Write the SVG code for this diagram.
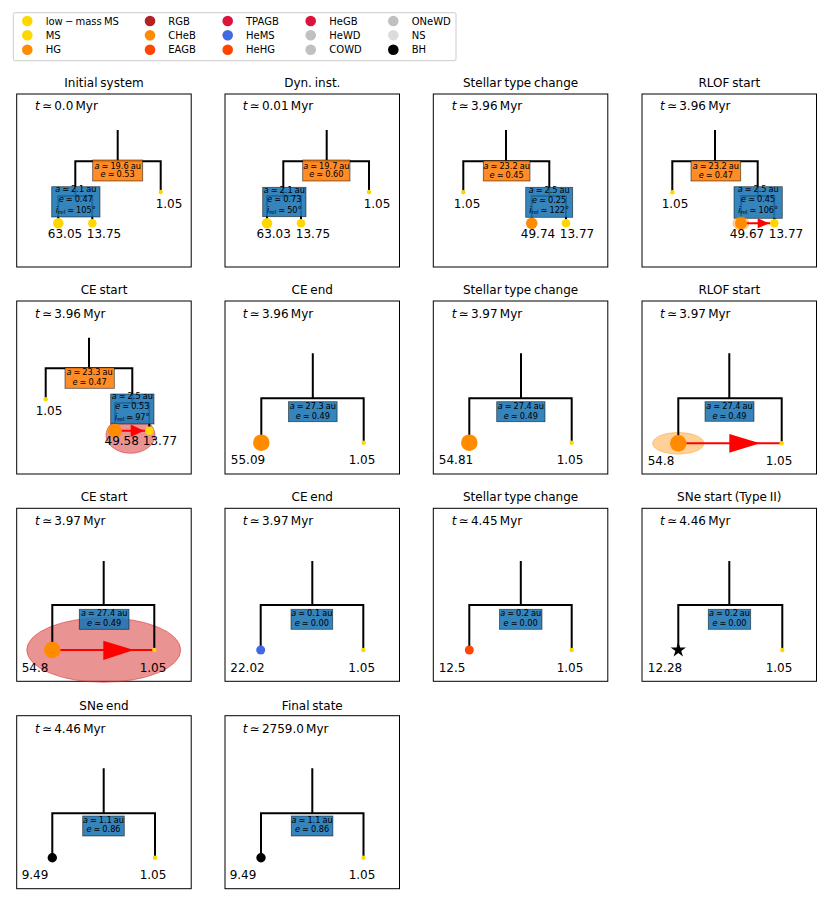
<svg xmlns="http://www.w3.org/2000/svg" width="830" height="902" viewBox="0 0 830 902">
<style>
text{font-family:"DejaVu Sans","Liberation Sans",sans-serif;fill:#000}
.frame{fill:none;stroke:#000;stroke-width:1}
.title{font-size:12px;text-anchor:middle;word-spacing:-1px}
.time{font-size:12px;word-spacing:-1.6px}
.lbl{font-size:12px;text-anchor:middle}
.bt{font-size:8.2px;text-anchor:middle;word-spacing:-0.6px}
.leg{font-size:10px;word-spacing:-1px}
.i{font-style:italic}
.sub{font-size:5.5px}
.tree{stroke:#000;stroke-width:2;fill:none}
.ob{fill:#ff7f0e;fill-opacity:.9;stroke:#000;stroke-opacity:.6;stroke-width:.8}
.bb{fill:#1f77b4;fill-opacity:.9;stroke:#000;stroke-opacity:.6;stroke-width:.8}
.ms{fill:#ffd700}
.chb{fill:#ff8c00}
.rl{stroke:#ff0000;stroke-width:2}
.ar{fill:#ff0000}
.ce{fill:#d62728;fill-opacity:.5;stroke:#d62728;stroke-opacity:.5;stroke-width:1}
.halo{fill:#ff8c00;fill-opacity:.4;stroke:#ff8c00;stroke-opacity:.4;stroke-width:1}
</style>
<defs>
<polygon id="star" points="0,-8 1.8,-2.5 7.6,-2.5 2.9,0.95 4.7,6.5 0,3.05 -4.7,6.5 -2.9,0.95 -7.6,-2.5 -1.8,-2.5"/>
</defs>

<g id="legend">
<rect x="13.3" y="12.7" width="442.7" height="48" rx="2" fill="#fff" stroke="#ccc" stroke-width="1"/>
<circle cx="27.3" cy="21" r="5.3" fill="#ffd700"/><text class="leg" x="45.7" y="24.5">low − mass MS</text>
<circle cx="27.3" cy="35.3" r="5.3" fill="#ffd700"/><text class="leg" x="45.7" y="38.8">MS</text>
<circle cx="27.3" cy="49.7" r="5.3" fill="#ff8c00"/><text class="leg" x="45.7" y="53.2">HG</text>
<circle cx="150" cy="21" r="5.3" fill="#b22222"/><text class="leg" x="168.3" y="24.5">RGB</text>
<circle cx="150" cy="35.3" r="5.3" fill="#ff8c00"/><text class="leg" x="168.3" y="38.8">CHeB</text>
<circle cx="150" cy="49.7" r="5.3" fill="#ff4500"/><text class="leg" x="168.3" y="53.2">EAGB</text>
<circle cx="227.7" cy="21" r="5.3" fill="#dc143c"/><text class="leg" x="246" y="24.5">TPAGB</text>
<circle cx="227.7" cy="35.3" r="5.3" fill="#4169e1"/><text class="leg" x="246" y="38.8">HeMS</text>
<circle cx="227.7" cy="49.7" r="5.3" fill="#ff4500"/><text class="leg" x="246" y="53.2">HeHG</text>
<circle cx="310.7" cy="21" r="5.3" fill="#dc143c"/><text class="leg" x="329.3" y="24.5">HeGB</text>
<circle cx="310.7" cy="35.3" r="5.3" fill="#c0c0c0"/><text class="leg" x="329.3" y="38.8">HeWD</text>
<circle cx="310.7" cy="49.7" r="5.3" fill="#c0c0c0"/><text class="leg" x="329.3" y="53.2">COWD</text>
<circle cx="393.3" cy="21" r="5.3" fill="#c0c0c0"/><text class="leg" x="411.7" y="24.5">ONeWD</text>
<circle cx="393.3" cy="35.3" r="5.3" fill="#dcdcdc"/><text class="leg" x="411.7" y="38.8">NS</text>
<circle cx="393.3" cy="49.7" r="5.3" fill="#000"/><text class="leg" x="411.7" y="53.2">BH</text>
</g>

<!-- Panel 1 -->
<g id="panel-1">
<rect class="frame" x="16.7" y="94" width="174.5" height="173"/>
<text class="title" x="104" y="87">Initial system</text>
<text class="time" x="35" y="110.4"><tspan class="i">t</tspan> ≃ 0.0 Myr</text>
<g id="p1-connectors"><path class="tree" d="M117.7 130V161.3M75.3 196V161.3H160.7V192M58.3 223.3V196H92.3V223.3"/></g>
<g id="p1-outer"><rect class="ob" x="92.7" y="160" width="50" height="21"/>
<text class="bt" x="117.7" y="168.6"><tspan class="i">a</tspan> ≃ 19.6 au</text>
<text class="bt" x="117.7" y="177.2"><tspan class="i">e</tspan> ≃ 0.53</text></g>
<g id="p1-inner"><rect class="bb" x="51.7" y="186.7" width="48.3" height="30.3"/>
<text class="bt" x="75.8" y="192.2"><tspan class="i">a</tspan> ≃ 2.1 au</text>
<text class="bt" x="75.8" y="202.2"><tspan class="i">e</tspan> ≃ 0.47</text>
<text class="bt" x="75.8" y="212.5"><tspan class="i">i</tspan><tspan class="sub" dy="1.5">rel</tspan><tspan dy="-1.5"> ≃ 105°</tspan></text></g>
<g id="p1-s1"><circle class="ms" cx="58.3" cy="223.3" r="5.3"/><text class="lbl" x="65" y="238.4">63.05</text></g>
<g id="p1-s2"><circle class="ms" cx="92.3" cy="223.3" r="4.3"/><text class="lbl" x="104" y="238.4">13.75</text></g>
<g id="p1-s3"><circle class="ms" cx="160.7" cy="192" r="2.2"/><text class="lbl" x="169" y="207.7">1.05</text></g>
</g>

<!-- Panel 2 -->
<g id="panel-2">
<rect class="frame" x="225" y="94" width="174.5" height="173"/>
<text class="title" x="312.3" y="87">Dyn. inst.</text>
<text class="time" x="242.7" y="110.4"><tspan class="i">t</tspan> ≃ 0.01 Myr</text>
<g id="p2-connectors"><path class="tree" d="M326.7 130V161.3M283.3 196V161.3H369V192M267 223.3V196H301V223.3"/></g>
<g id="p2-outer"><rect class="ob" x="302.7" y="160" width="47.3" height="21"/>
<text class="bt" x="326.4" y="168.6"><tspan class="i">a</tspan> ≃ 19.7 au</text>
<text class="bt" x="326.4" y="177.2"><tspan class="i">e</tspan> ≃ 0.60</text></g>
<g id="p2-inner"><rect class="bb" x="262.7" y="187.3" width="43.3" height="29.4"/>
<text class="bt" x="284.3" y="192.6"><tspan class="i">a</tspan> ≃ 2.1 au</text>
<text class="bt" x="284.3" y="202.4"><tspan class="i">e</tspan> ≃ 0.73</text>
<text class="bt" x="284.3" y="212.6"><tspan class="i">i</tspan><tspan class="sub" dy="1.5">rel</tspan><tspan dy="-1.5"> ≃ 50°</tspan></text></g>
<g id="p2-s1"><circle class="ms" cx="267" cy="223.3" r="5.3"/><text class="lbl" x="273.7" y="238.4">63.03</text></g>
<g id="p2-s2"><circle class="ms" cx="301" cy="223.3" r="4.3"/><text class="lbl" x="313" y="238.4">13.75</text></g>
<g id="p2-s3"><circle class="ms" cx="369" cy="192" r="2.2"/><text class="lbl" x="377" y="207.7">1.05</text></g>
</g>

<!-- Panel 3 -->
<g id="panel-3">
<rect class="frame" x="433.3" y="94" width="174.5" height="173"/>
<text class="title" x="520.6" y="87">Stellar type change</text>
<text class="time" x="451.7" y="110.4"><tspan class="i">t</tspan> ≃ 3.96 Myr</text>
<g id="p3-connectors"><path class="tree" d="M506 130V161.3M463.3 192.3V161.3H549.3V196M531.7 223.3V196H566V223.3"/></g>
<g id="p3-outer"><rect class="ob" x="483.3" y="160.7" width="46.7" height="20.3"/>
<text class="bt" x="506.7" y="169"><tspan class="i">a</tspan> ≃ 23.2 au</text>
<text class="bt" x="506.7" y="177.5"><tspan class="i">e</tspan> ≃ 0.45</text></g>
<g id="p3-inner"><rect class="bb" x="525.7" y="187.3" width="47" height="30"/>
<text class="bt" x="549.2" y="192.6"><tspan class="i">a</tspan> ≃ 2.5 au</text>
<text class="bt" x="549.2" y="202.6"><tspan class="i">e</tspan> ≃ 0.25</text>
<text class="bt" x="549.2" y="212.8"><tspan class="i">i</tspan><tspan class="sub" dy="1.5">rel</tspan><tspan dy="-1.5"> ≃ 122°</tspan></text></g>
<g id="p3-s1"><circle class="chb" cx="531.7" cy="223.3" r="5.8"/><text class="lbl" x="538" y="238.4">49.74</text></g>
<g id="p3-s2"><circle class="ms" cx="566" cy="223.3" r="4.3"/><text class="lbl" x="577" y="238.4">13.77</text></g>
<g id="p3-s3"><circle class="ms" cx="463.3" cy="192.3" r="2.2"/><text class="lbl" x="467" y="207.7">1.05</text></g>
</g>

<!-- Panel 4 -->
<g id="panel-4">
<rect class="frame" x="642" y="94" width="174.5" height="173"/>
<text class="title" x="729.3" y="87">RLOF start</text>
<text class="time" x="660" y="110.4"><tspan class="i">t</tspan> ≃ 3.96 Myr</text>
<g id="p4-connectors"><path class="tree" d="M715 130V161.3M672.3 192.3V161.3H757.7V196M741 223.3V196H774.3V223.3"/></g>
<g id="p4-outer"><rect class="ob" x="691" y="160.7" width="49.7" height="20.3"/>
<text class="bt" x="715.8" y="169"><tspan class="i">a</tspan> ≃ 23.2 au</text>
<text class="bt" x="715.8" y="177.5"><tspan class="i">e</tspan> ≃ 0.47</text></g>
<g id="p4-inner"><rect class="bb" x="734" y="186.7" width="48.3" height="31.6"/>
<text class="bt" x="758.2" y="192.2"><tspan class="i">a</tspan> ≃ 2.5 au</text>
<text class="bt" x="758.2" y="202.4"><tspan class="i">e</tspan> ≃ 0.45</text>
<text class="bt" x="758.2" y="212.8"><tspan class="i">i</tspan><tspan class="sub" dy="1.5">rel</tspan><tspan dy="-1.5"> ≃ 106°</tspan></text></g>
<ellipse class="halo" cx="741" cy="223.3" rx="8" ry="6.5"/>
<line class="rl" x1="741" y1="223.3" x2="774.3" y2="223.3"/>
<polygon class="ar" points="757.7,218.3 757.7,228.3 769.3,223.3"/>
<g id="p4-s1"><circle class="chb" cx="741" cy="223.3" r="6"/><text class="lbl" x="747" y="237.7">49.67</text></g>
<g id="p4-s2"><circle class="ms" cx="774.3" cy="223.3" r="4.3"/><text class="lbl" x="786" y="237.7">13.77</text></g>
<g id="p4-s3"><circle class="ms" cx="672.3" cy="192.3" r="2.2"/><text class="lbl" x="675" y="207.7">1.05</text></g>
</g>

<!-- Panel 5 -->
<g id="panel-5">
<rect class="frame" x="16.7" y="301" width="174.5" height="173"/>
<text class="title" x="104" y="294">CE start</text>
<text class="time" x="35" y="317.7"><tspan class="i">t</tspan> ≃ 3.96 Myr</text>
<ellipse class="ce" cx="130.5" cy="435" rx="24.5" ry="18.3"/>
<g id="p5-connectors"><path class="tree" d="M89 337.7V368.3M45.7 399.3V368.3H132.3V403M115 430.7V403H149.3V430.7"/></g>
<g id="p5-outer"><rect class="ob" x="65" y="367.6" width="49.3" height="20.7"/>
<text class="bt" x="89.6" y="375.3"><tspan class="i">a</tspan> ≃ 23.3 au</text>
<text class="bt" x="89.6" y="384.5"><tspan class="i">e</tspan> ≃ 0.47</text></g>
<g id="p5-inner"><rect class="bb" x="110.7" y="394" width="43.3" height="30"/>
<text class="bt" x="132.3" y="399.4"><tspan class="i">a</tspan> ≃ 2.5 au</text>
<text class="bt" x="132.3" y="409.3"><tspan class="i">e</tspan> ≃ 0.53</text>
<text class="bt" x="132.3" y="419.5"><tspan class="i">i</tspan><tspan class="sub" dy="1.5">rel</tspan><tspan dy="-1.5"> ≃ 97°</tspan></text></g>
<line class="rl" x1="115" y1="430.7" x2="149.3" y2="430.7"/>
<polygon class="ar" points="130.7,424.5 130.7,437 144,430.7"/>
<g id="p5-s1"><circle class="chb" cx="115" cy="430.7" r="7"/><text class="lbl" x="121.7" y="445.4">49.58</text></g>
<g id="p5-s2"><circle class="ms" cx="149.3" cy="430.7" r="4.3"/><text class="lbl" x="160" y="445.4">13.77</text></g>
<g id="p5-s3"><circle class="ms" cx="45.7" cy="399.3" r="2.2"/><text class="lbl" x="49" y="415">1.05</text></g>
</g>

<!-- Panel 6 -->
<g id="panel-6">
<rect class="frame" x="225" y="301" width="174.5" height="173"/>
<text class="title" x="312.3" y="294">CE end</text>
<text class="time" x="242.7" y="317.7"><tspan class="i">t</tspan> ≃ 3.96 Myr</text>
<g id="p6-connectors"><path class="tree" d="M312.8 353.3V398.3M261.3 442.7V398.3H363.7V442.7"/></g>
<g id="p6-bin"><rect class="bb" x="288.5" y="401.7" width="48.6" height="20"/>
<text class="bt" x="312.8" y="408.9"><tspan class="i">a</tspan> ≃ 27.3 au</text>
<text class="bt" x="312.8" y="418.6"><tspan class="i">e</tspan> ≃ 0.49</text></g>
<g id="p6-s1"><circle class="chb" cx="261.3" cy="442.7" r="8.3"/><text class="lbl" x="248" y="464.4">55.09</text></g>
<g id="p6-s2"><circle class="ms" cx="363.7" cy="442.7" r="2.2"/><text class="lbl" x="362" y="464.4">1.05</text></g>
</g>

<!-- Panel 7 -->
<g id="panel-7">
<rect class="frame" x="433.3" y="301" width="174.5" height="173"/>
<text class="title" x="520.6" y="294">Stellar type change</text>
<text class="time" x="451.7" y="317.7"><tspan class="i">t</tspan> ≃ 3.97 Myr</text>
<g id="p7-connectors"><path class="tree" d="M521 353.3V398.3M469.3 442.7V398.3H571.7V442.7"/></g>
<g id="p7-bin"><rect class="bb" x="496.7" y="401.7" width="48.3" height="20"/>
<text class="bt" x="520.8" y="408.9"><tspan class="i">a</tspan> ≃ 27.4 au</text>
<text class="bt" x="520.8" y="418.6"><tspan class="i">e</tspan> ≃ 0.49</text></g>
<g id="p7-s1"><circle class="chb" cx="469.3" cy="442.7" r="8.3"/><text class="lbl" x="456" y="464.4">54.81</text></g>
<g id="p7-s2"><circle class="ms" cx="571.7" cy="442.7" r="2.2"/><text class="lbl" x="570" y="464.4">1.05</text></g>
</g>

<!-- Panel 8 -->
<g id="panel-8">
<rect class="frame" x="642" y="301" width="174.5" height="173"/>
<text class="title" x="729.3" y="294">RLOF start</text>
<text class="time" x="660" y="317.7"><tspan class="i">t</tspan> ≃ 3.97 Myr</text>
<ellipse class="halo" cx="678.3" cy="443.3" rx="25.7" ry="10.8"/>
<g id="p8-connectors"><path class="tree" d="M729.3 353.3V398.3M678.3 443.3V398.3H781.7V443.3"/></g>
<g id="p8-bin"><rect class="bb" x="705" y="401.7" width="49" height="19.6"/>
<text class="bt" x="729.5" y="408.9"><tspan class="i">a</tspan> ≃ 27.4 au</text>
<text class="bt" x="729.5" y="418.6"><tspan class="i">e</tspan> ≃ 0.49</text></g>
<line class="rl" x1="678.3" y1="443.3" x2="781.7" y2="443.3"/>
<polygon class="ar" points="729.3,434 729.3,452.7 760,443.3"/>
<g id="p8-s1"><circle class="chb" cx="678.3" cy="443.3" r="8.3"/><text class="lbl" x="661" y="465">54.8</text></g>
<g id="p8-s2"><circle class="ms" cx="781.7" cy="443.3" r="2.2"/><text class="lbl" x="779" y="465">1.05</text></g>
</g>

<!-- Panel 9 -->
<g id="panel-9">
<rect class="frame" x="16.7" y="508.3" width="174.5" height="173"/>
<text class="title" x="104" y="501">CE start</text>
<text class="time" x="35" y="525.4"><tspan class="i">t</tspan> ≃ 3.97 Myr</text>
<ellipse class="ce" cx="103.7" cy="650" rx="77" ry="32.3"/>
<g id="p9-connectors"><path class="tree" d="M103.7 561V605M52.3 650V605H154.3V650"/></g>
<g id="p9-bin"><rect class="bb" x="79.3" y="609.3" width="49.7" height="20"/>
<text class="bt" x="104.2" y="616.3"><tspan class="i">a</tspan> ≃ 27.4 au</text>
<text class="bt" x="104.2" y="625.6"><tspan class="i">e</tspan> ≃ 0.49</text></g>
<line class="rl" x1="52.3" y1="650" x2="154.3" y2="650"/>
<polygon class="ar" points="103.3,640.7 103.3,660 134,650"/>
<g id="p9-s1"><circle class="chb" cx="52.3" cy="650" r="8.3"/><text class="lbl" x="35" y="672">54.8</text></g>
<g id="p9-s2"><circle class="ms" cx="154.3" cy="650" r="2.2"/><text class="lbl" x="153" y="672">1.05</text></g>
</g>

<!-- Panel 10 -->
<g id="panel-10">
<rect class="frame" x="225" y="508.3" width="174.5" height="173"/>
<text class="title" x="312.3" y="501">CE end</text>
<text class="time" x="242.7" y="525.4"><tspan class="i">t</tspan> ≃ 3.97 Myr</text>
<g id="p10-connectors"><path class="tree" d="M312.3 561V605M260.7 650V605H363.3V650"/></g>
<g id="p10-bin"><rect class="bb" x="291" y="609.3" width="41.7" height="20"/>
<text class="bt" x="311.8" y="616.3"><tspan class="i">a</tspan> ≃ 0.1 au</text>
<text class="bt" x="311.8" y="625.6"><tspan class="i">e</tspan> ≃ 0.00</text></g>
<g id="p10-s1"><circle cx="260.7" cy="650" r="4.5" fill="#4169e1"/><text class="lbl" x="247.5" y="672">22.02</text></g>
<g id="p10-s2"><circle class="ms" cx="363.3" cy="650" r="2.2"/><text class="lbl" x="361.7" y="672">1.05</text></g>
</g>

<!-- Panel 11 -->
<g id="panel-11">
<rect class="frame" x="433.3" y="508.3" width="174.5" height="173"/>
<text class="title" x="520.6" y="501">Stellar type change</text>
<text class="time" x="451.7" y="525.4"><tspan class="i">t</tspan> ≃ 4.45 Myr</text>
<g id="p11-connectors"><path class="tree" d="M520.8 561V605M469.3 650V605H571.7V650"/></g>
<g id="p11-bin"><rect class="bb" x="499.5" y="609.3" width="42.5" height="20"/>
<text class="bt" x="520.7" y="616.3"><tspan class="i">a</tspan> ≃ 0.2 au</text>
<text class="bt" x="520.7" y="625.6"><tspan class="i">e</tspan> ≃ 0.00</text></g>
<g id="p11-s1"><circle cx="469.3" cy="650" r="4.5" fill="#ff4500"/><text class="lbl" x="452" y="672">12.5</text></g>
<g id="p11-s2"><circle class="ms" cx="571.7" cy="650" r="2.2"/><text class="lbl" x="570" y="672">1.05</text></g>
</g>

<!-- Panel 12 -->
<g id="panel-12">
<rect class="frame" x="642" y="508.3" width="174.5" height="173"/>
<text class="title" x="729.3" y="501">SNe start (Type II)</text>
<text class="time" x="660" y="525.4"><tspan class="i">t</tspan> ≃ 4.46 Myr</text>
<g id="p12-connectors"><path class="tree" d="M729.3 561V605M678.3 650V605H782.3V650"/></g>
<g id="p12-bin"><rect class="bb" x="708.3" y="609.3" width="42.4" height="20"/>
<text class="bt" x="729.5" y="616.3"><tspan class="i">a</tspan> ≃ 0.2 au</text>
<text class="bt" x="729.5" y="625.6"><tspan class="i">e</tspan> ≃ 0.00</text></g>
<g id="p12-s1"><use href="#star" x="678.3" y="650" fill="#000"/><text class="lbl" x="665" y="672">12.28</text></g>
<g id="p12-s2"><circle class="ms" cx="782.3" cy="650" r="2.2"/><text class="lbl" x="779" y="672">1.05</text></g>
</g>

<!-- Panel 13 -->
<g id="panel-13">
<rect class="frame" x="16.7" y="715.7" width="174.5" height="173"/>
<text class="title" x="104" y="709.5">SNe end</text>
<text class="time" x="35" y="732.7"><tspan class="i">t</tspan> ≃ 4.46 Myr</text>
<g id="p13-connectors"><path class="tree" d="M103.7 768.3V813.3M52.3 857.7V813.3H155V857.7"/></g>
<g id="p13-bin"><rect class="bb" x="82.7" y="816" width="41.6" height="20"/>
<text class="bt" x="103.5" y="823"><tspan class="i">a</tspan> ≃ 1.1 au</text>
<text class="bt" x="103.5" y="832.3"><tspan class="i">e</tspan> ≃ 0.86</text></g>
<g id="p13-s1"><circle cx="52.3" cy="857.7" r="4.7" fill="#000"/><text class="lbl" x="35" y="879.4">9.49</text></g>
<g id="p13-s2"><circle class="ms" cx="155" cy="857.7" r="2.2"/><text class="lbl" x="153" y="879.4">1.05</text></g>
</g>

<!-- Panel 14 -->
<g id="panel-14">
<rect class="frame" x="225" y="715.7" width="174.5" height="173"/>
<text class="title" x="312.3" y="709.5">Final state</text>
<text class="time" x="242.7" y="732.7"><tspan class="i">t</tspan> ≃ 2759.0 Myr</text>
<g id="p14-connectors"><path class="tree" d="M312.3 768.3V813.3M261 857.7V813.3H363.5V857.7"/></g>
<g id="p14-bin"><rect class="bb" x="291.3" y="816" width="41.6" height="20"/>
<text class="bt" x="312.1" y="823"><tspan class="i">a</tspan> ≃ 1.1 au</text>
<text class="bt" x="312.1" y="832.3"><tspan class="i">e</tspan> ≃ 0.86</text></g>
<g id="p14-s1"><circle cx="261" cy="857.7" r="4.7" fill="#000"/><text class="lbl" x="243" y="879.4">9.49</text></g>
<g id="p14-s2"><circle class="ms" cx="363.5" cy="857.7" r="2.2"/><text class="lbl" x="362" y="879.4">1.05</text></g>
</g>
</svg>
